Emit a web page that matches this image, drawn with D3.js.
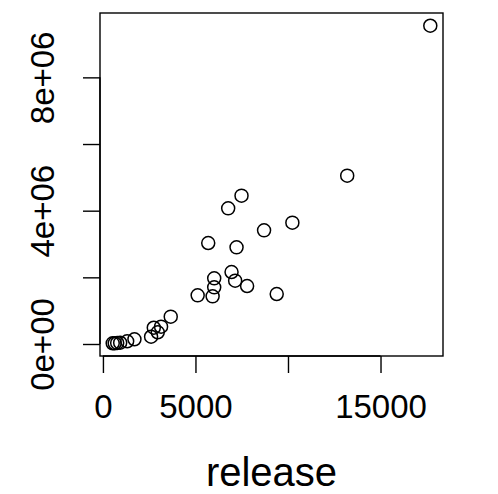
<!DOCTYPE html>
<html>
<head>
<meta charset="utf-8">
<script src="https://cdn.jsdelivr.net/npm/d3@7"></script>
<style>
  html, body { margin: 0; padding: 0; background: #fff; }
  svg { display: block; }
  text { font-family: "Liberation Sans", Arial, Helvetica, sans-serif; fill: #000; }
</style>
</head>
<body>
<svg id="chart" width="498" height="494"></svg>
<script>
// ---- data ----
const release = [528, 636, 770, 932, 1309, 1703,
                 2602, 2748, 2963, 3141, 3664,
                 5119, 5927, 6013, 6013, 5690, 6950, 7145, 7220, 7791, 9391,
                 6768, 7489, 8707, 10237, 13200, 17690];
const yvalues = [21000, 21000, 30000, 39000, 81000, 141000,
                 219000, 489000, 351000, 520000, 820000,
                 1460000, 1430000, 1700000, 1970000, 3030000, 2160000, 1900000, 2900000, 1740000, 1500000,
                 4070000, 4450000, 3410000, 3640000, 5050000, 9550000];
const xTicks = [0, 5000, 10000, 15000];
const xTickLabels = ["0", "5000", "", "15000"];
const yTicks = [0, 2000000, 4000000, 6000000, 8000000];
const yTickLabels = ["0e+00", "", "4e+06", "", "8e+06"];
const xTitle = "release";

// ---- layout ----
const mLeft = 100, mRight = 443, mTop = 13, mBottom = 356;
const svg = d3.select("#chart");

function rRange(v) {
  const lo = d3.min(v), hi = d3.max(v), d = (hi - lo) * 0.04;
  return [lo - d, hi + d];
}
const x = d3.scaleLinear().domain(rRange(release)).range([mLeft, mRight]);
const y = d3.scaleLinear().domain(rRange(yvalues)).range([mBottom, mTop]);

// box
svg.append("rect")
  .attr("x", mLeft).attr("y", mTop)
  .attr("width", mRight - mLeft).attr("height", mBottom - mTop)
  .attr("fill", "none").attr("stroke", "#000").attr("stroke-width", 1.4);

// x axis
const xAxis = d3.axisBottom(x).tickValues(xTicks).tickSize(17)
  .tickFormat((d, i) => xTickLabels[i]);
const gx = svg.append("g").attr("transform", `translate(0,${mBottom})`).call(xAxis);
gx.select(".domain").attr("d", `M${x(xTicks[0])},0H${x(xTicks[xTicks.length-1])}`)
  .attr("stroke", "#000").attr("stroke-width", 1.4);
gx.selectAll(".tick line").attr("stroke", "#000").attr("stroke-width", 1.4);
gx.selectAll(".tick text").attr("y", 62).attr("dy", null)
  .style("font-size", "33px").attr("fill", "#000")
  .attr("font-family", '"Liberation Sans", Arial, sans-serif');

// y axis
const yAxis = d3.axisLeft(y).tickValues(yTicks).tickSize(17)
  .tickFormat((d, i) => yTickLabels[i]);
const gy = svg.append("g").attr("transform", `translate(${mLeft},0)`).call(yAxis);
gy.select(".domain").attr("d", `M0,${y(yTicks[0])}V${y(yTicks[yTicks.length-1])}`)
  .attr("stroke", "#000").attr("stroke-width", 1.4);
gy.selectAll(".tick line").attr("stroke", "#000").attr("stroke-width", 1.4);
gy.selectAll(".tick text")
  .attr("x", null).attr("dy", null).attr("y", null)
  .attr("transform", "translate(-46.5,0) rotate(-90)")
  .attr("text-anchor", "middle")
  .style("font-size", "33px").attr("fill", "#000")
  .attr("font-family", '"Liberation Sans", Arial, sans-serif');

// points
svg.append("g").selectAll("circle")
  .data(release.map((r, i) => [r, yvalues[i]]))
  .join("circle")
  .attr("cx", d => x(d[0]))
  .attr("cy", d => y(d[1]))
  .attr("r", 6.5)
  .attr("fill", "none")
  .attr("stroke", "#000")
  .attr("stroke-width", 1.5);

// x title
svg.append("text")
  .attr("x", (mLeft + mRight) / 2).attr("y", 486)
  .attr("text-anchor", "middle")
  .style("font-size", "40px")
  .text(xTitle);
</script>
</body>
</html>
